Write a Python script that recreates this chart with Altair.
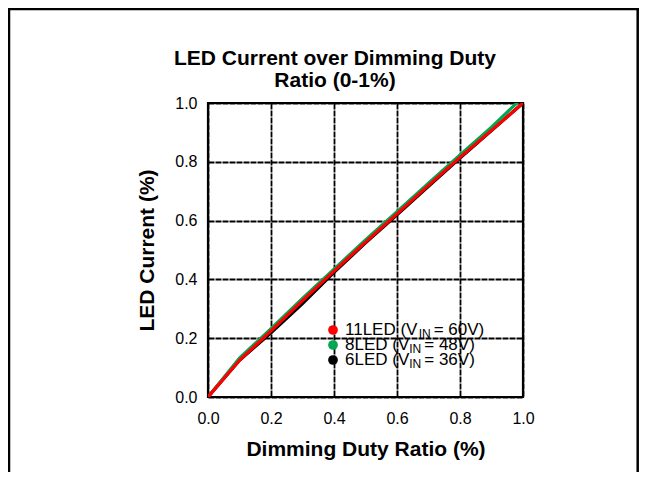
import altair as alt
import pandas as pd

# ---- data ----
duty = [0.0, 0.1, 0.2, 0.3, 0.4, 0.5, 0.6, 0.7, 0.8, 0.9, 1.0]
i_11led = [0.0, 0.125, 0.225, 0.328, 0.428, 0.527, 0.623, 0.720, 0.815, 0.907, 1.0]
i_8led = [0.0, 0.132, 0.232, 0.335, 0.435, 0.534, 0.630, 0.727, 0.823, 0.918, 1.02]
i_6led = [0.0, 0.125, 0.218, 0.318, 0.424, 0.524, 0.620, 0.717, 0.813, 0.906, 1.0]

series = ["11LED", "8LED", "6LED"]
series_colors = ["#ff0000", "#00a651", "#000000"]
legend_prefix = ["11LED (V", "8LED (V", "6LED (V"]
legend_sub = ["IN", "IN", "IN"]
legend_suffix = ["= 60V)", "= 48V)", "= 36V)"]

ticks = [0.0, 0.2, 0.4, 0.6, 0.8, 1.0]
title_lines = ["LED Current over Dimming Duty", "Ratio (0-1%)"]
x_title = "Dimming Duty Ratio (%)"
y_title = "LED Current (%)"

rows = []
for name, vals in zip(series, [i_11led, i_8led, i_6led]):
    for d, v in zip(duty, vals):
        rows.append({"duty": d, "current": v, "series": name})
df = pd.DataFrame(rows)

W, H = 315, 294
FONT = "Liberation Sans"
one = alt.InlineData(values=[{}])

x_enc = alt.X("duty:Q", scale=alt.Scale(domain=[0, 1], nice=False, zero=False),
              axis=alt.Axis(values=ticks, format=".1f", title=x_title,
                            labelPadding=13, titlePadding=12))
y_enc = alt.Y("current:Q", scale=alt.Scale(domain=[0, 1], nice=False, zero=False),
              axis=alt.Axis(values=ticks, format=".1f", title=y_title,
                            labelPadding=11, titlePadding=17))

layers = []
# draw black first, red on top
for name, col in reversed(list(zip(series, series_colors))):
    layers.append(
        alt.Chart(df).transform_filter(alt.datum.series == name)
        .mark_line(color=col, strokeWidth=3.2, clip=True)
        .encode(x=x_enc, y=y_enc)
    )

# ---- custom legend with subscripts ----
cw = {'1': 556, '8': 556, '6': 556, 'L': 556, 'E': 667, 'D': 722, ' ': 278,
      '(': 333, 'V': 667, 'I': 278, 'N': 722}


def tw(s, size):
    return sum(cw.get(c, 556) for c in s) * size / 1000.0


leg_x, leg_y0, leg_dy = 125, 232, 15
for i, (pre, sub, suf, col) in enumerate(zip(legend_prefix, legend_sub, legend_suffix, series_colors)):
    yb = leg_y0 + i * leg_dy
    layers.append(alt.Chart(one).mark_circle(size=95, opacity=1, color=col)
                  .encode(x=alt.value(leg_x), y=alt.value(yb - 5)))
    x0 = leg_x + 12
    layers.append(alt.Chart(one).mark_text(align="left", baseline="alphabetic", font=FONT,
                                           fontSize=17, color="black")
                  .encode(x=alt.value(x0), y=alt.value(yb), text=alt.value(pre)))
    x1 = x0 + tw(pre, 17)
    layers.append(alt.Chart(one).mark_text(align="left", baseline="alphabetic", font=FONT,
                                           fontSize=12, color="black")
                  .encode(x=alt.value(x1), y=alt.value(yb + 3), text=alt.value(sub)))
    x2 = x1 + tw(sub, 12) + 3
    layers.append(alt.Chart(one).mark_text(align="left", baseline="alphabetic", font=FONT,
                                           fontSize=17, color="black")
                  .encode(x=alt.value(x2), y=alt.value(yb), text=alt.value(suf)))

# ---- chart title (two lines) ----
for j, line in enumerate(title_lines):
    layers.append(alt.Chart(one).mark_text(align="center", baseline="alphabetic", font=FONT,
                                           fontSize=21, fontWeight="bold", color="black")
                  .encode(x=alt.value(127), y=alt.value(-38 + 22 * j), text=alt.value(line)))

# ---- outer frame lines ----
layers.append(alt.Chart(one).mark_rule(color="black", strokeWidth=2.5, clip=False)
              .encode(x=alt.value(-200), x2=alt.value(431), y=alt.value(-94)))
layers.append(alt.Chart(one).mark_rule(color="black", strokeWidth=2.5, clip=False)
              .encode(x=alt.value(-199), y=alt.value(-95), y2=alt.value(370)))
layers.append(alt.Chart(one).mark_rule(color="black", strokeWidth=2.5, clip=False)
              .encode(x=alt.value(429.7), y=alt.value(-95), y2=alt.value(370)))

chart = alt.layer(*layers).properties(
    width=W, height=H,
    autosize=alt.AutoSizeParams(type="none"),
    padding={"left": 200, "top": 95, "right": 116, "bottom": 75},
).configure_view(
    stroke="black", strokeWidth=2.2
).configure_axis(
    grid=True, gridColor="black", gridWidth=1.8, gridDash=[6, 1],
    domain=False, ticks=False, labelFlush=False, labelOverlap=False,
    labelFont=FONT, labelFontSize=16, labelColor="black",
    titleFont=FONT, titleFontSize=21, titleFontWeight="bold", titleColor="black",
)

chart.save("out.html", embed_options={"renderer": "svg", "actions": False})
